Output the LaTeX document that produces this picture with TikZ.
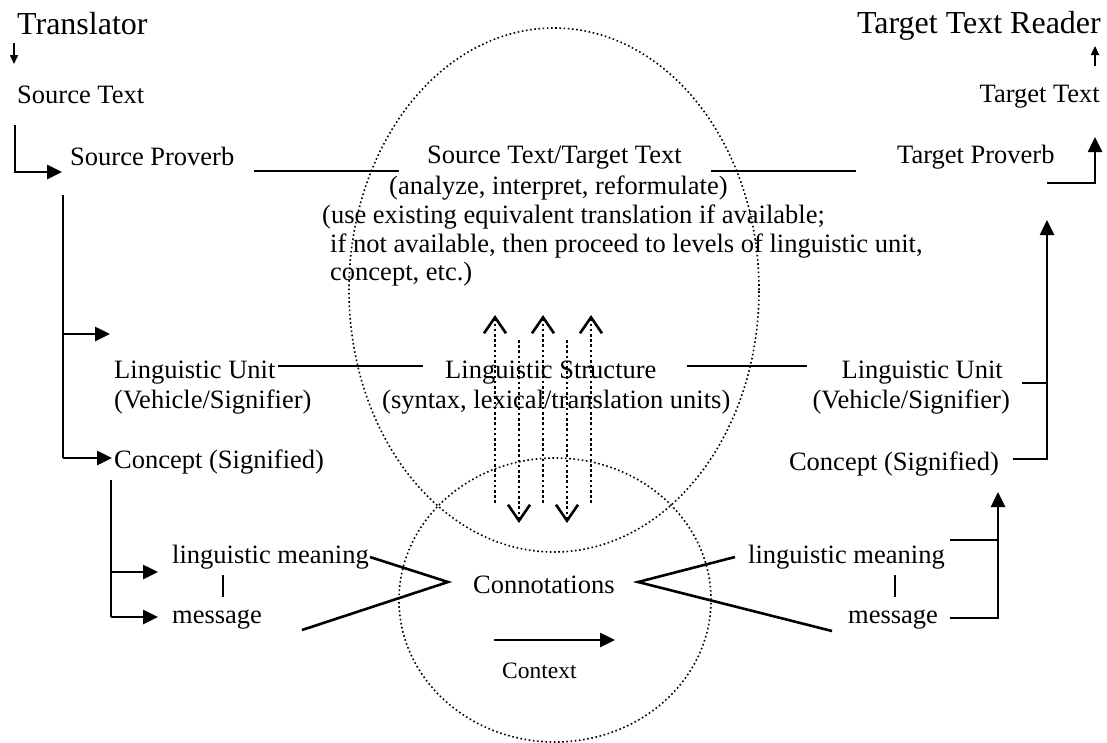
\documentclass[tikz,border=0pt]{standalone}
\usepackage{fontspec}
\setmainfont{Liberation Serif}
\usetikzlibrary{arrows.meta}
\begin{document}
\begin{tikzpicture}[x=1pt,y=-1pt,
 txt/.style={inner sep=0pt, font=\fontsize{26.5}{30}\selectfont},
 big/.style={inner sep=0pt, font=\fontsize{32}{36}\selectfont},
 small/.style={inner sep=0pt, font=\fontsize{23.5}{28}\selectfont},
 conn/.style={line width=2.6pt},
 arr/.style={conn, -{Triangle[length=15pt,width=14pt]}},
 thinarr/.style={line width=1.6pt, -{Triangle[length=9pt,width=8pt]}},
 dotarr/.style={line width=2.6pt, dash pattern=on 2.6pt off 2.6pt, -{Straight Barb[length=16pt,width=22pt,line width=2.6pt]}},
 oval/.style={line width=1.6pt, dash pattern=on 1.6pt off 2.6pt}
]
\useasboundingbox (0,0) rectangle (1107,742);

% ovals
\draw[oval] (554,290) ellipse [x radius=205pt, y radius=262pt];
\draw[oval] (555,600) ellipse [x radius=156pt, y radius=142pt];

% texts
\node[big, anchor=base west] (translator) at (17,34) {Translator};
\node[big, anchor=base east] (reader) at (1101,33) {Target Text Reader};
\node[txt, anchor=base west] (st) at (17,103) {Source Text};
\node[txt, anchor=base east] (tt) at (1100,102) {Target Text};
\node[txt, anchor=base west] (sp) at (70,165) {Source Proverb};
\node[txt, anchor=base west] (sttt) at (427,163) {Source Text/Target Text};
\node[txt, anchor=base west] (tp) at (897,163) {Target Proverb};
\node[txt, anchor=base west] (c1) at (389,194) {(analyze, interpret, reformulate)};
\node[txt, anchor=base west] (c2) at (322,223) {(use existing equivalent translation if available;};
\node[txt, anchor=base west] (c3) at (330,252) {if not available, then proceed to levels of linguistic unit,};
\node[txt, anchor=base west] (c4) at (330,280) {concept, etc.)};
\node[txt, anchor=base west] (lu1) at (114,378) {Linguistic Unit};
\node[txt, anchor=base west] (vs1) at (114,408) {(Vehicle/Signifier)};
\node[txt, anchor=base west] (ls) at (445,378) {Linguistic Structure};
\node[txt, anchor=base west] (syn) at (382,408) {(syntax, lexical/translation units)};
\node[txt, anchor=base east] (lu2) at (1003,378) {Linguistic Unit};
\node[txt, anchor=base east] (vs2) at (1010,408) {(Vehicle/Signifier)};
\node[txt, anchor=base west] (co1) at (114,468) {Concept (Signified)};
\node[txt, anchor=base east] (co2) at (999,470) {Concept (Signified)};
\node[txt, anchor=base west] (lm1) at (172,563) {linguistic meaning};
\node[txt, anchor=base west] (ms1) at (172,623) {message};
\node[txt, anchor=base west] (con) at (473,593) {Connotations};
\node[txt, anchor=base west] (lm2) at (748,563) {linguistic meaning};
\node[txt, anchor=base west] (ms2) at (848,623) {message};
\node[small, anchor=base west] (ctx) at (502,678) {Context};

% coordinates
\coordinate (a1) at (14,43);  \coordinate (a2) at (14,64);
\coordinate (b1) at (1095,66); \coordinate (b2) at (1095,46);
\coordinate (l1) at (15,125); \coordinate (l2) at (15,172); \coordinate (l3) at (62,172);
\coordinate (v1) at (63,195); \coordinate (v2) at (63,458); \coordinate (v3) at (63,334);
\coordinate (v4) at (110,334); \coordinate (v5) at (112,458);
\coordinate (w1) at (111,480); \coordinate (w2) at (111,617); \coordinate (w3) at (111,572);
\coordinate (w4) at (158,572); \coordinate (w5) at (158,617);
\coordinate (h1) at (254,171); \coordinate (h2) at (399,171);
\coordinate (h3) at (711,171); \coordinate (h4) at (856,171);
\coordinate (h5) at (278,366); \coordinate (h6) at (423,366);
\coordinate (h7) at (687,366); \coordinate (h8) at (807,366);
\coordinate (p1) at (1047,183); \coordinate (p2) at (1095,183); \coordinate (p3) at (1095,137);
\coordinate (r1) at (1022,383); \coordinate (r2) at (1047,383);
\coordinate (r3) at (1013,459); \coordinate (r4) at (1047,459); \coordinate (r5) at (1047,220);
\coordinate (s1) at (950,540); \coordinate (s2) at (998,540);
\coordinate (s3) at (950,618); \coordinate (s4) at (998,618); \coordinate (s5) at (998,492);
\coordinate (k1) at (370,557); \coordinate (k2) at (448,582); \coordinate (k3) at (302,630);
\coordinate (k4) at (735,557); \coordinate (k5) at (638,582); \coordinate (k6) at (832,631);
\coordinate (t1) at (223,575); \coordinate (t2) at (223,597);
\coordinate (t3) at (895,575); \coordinate (t4) at (895,597);
\coordinate (x1) at (494,640); \coordinate (x2) at (615,640);

% connectors
\draw[thinarr] (a1) -- (a2);
\draw[thinarr] (b1) -- (b2);
\draw[arr] (l1) -- (l2) -- (l3);
\draw[conn] (v1) -- (v2);
\draw[arr] (v3) -- (v4);
\draw[arr] (v2) -- (v5);
\draw[conn] (w1) -- (w2);
\draw[arr] (w3) -- (w4);
\draw[arr] (w2) -- (w5);
\draw[conn] (h1) -- (h2);
\draw[conn] (h3) -- (h4);
\draw[conn] (h5) -- (h6);
\draw[conn] (h7) -- (h8);
\draw[arr] (p1) -- (p2) -- (p3);
\draw[conn] (r1) -- (r2);
\draw[arr] (r3) -- (r4) -- (r5);
\draw[conn] (s1) -- (s2);
\draw[arr] (s3) -- (s4) -- (s5);
\draw[conn] (k1) -- (k2) -- (k3);
\draw[conn] (k4) -- (k5) -- (k6);
\draw[conn] (t1) -- (t2);
\draw[conn] (t3) -- (t4);
\draw[arr] (x1) -- (x2);

% dotted arrows
\foreach \xx in {495,543,591} \draw[dotarr] (\xx,503) -- (\xx,315);
\foreach \xx in {519,567} \draw[dotarr] (\xx,340) -- (\xx,523);
\end{tikzpicture}
\end{document}
